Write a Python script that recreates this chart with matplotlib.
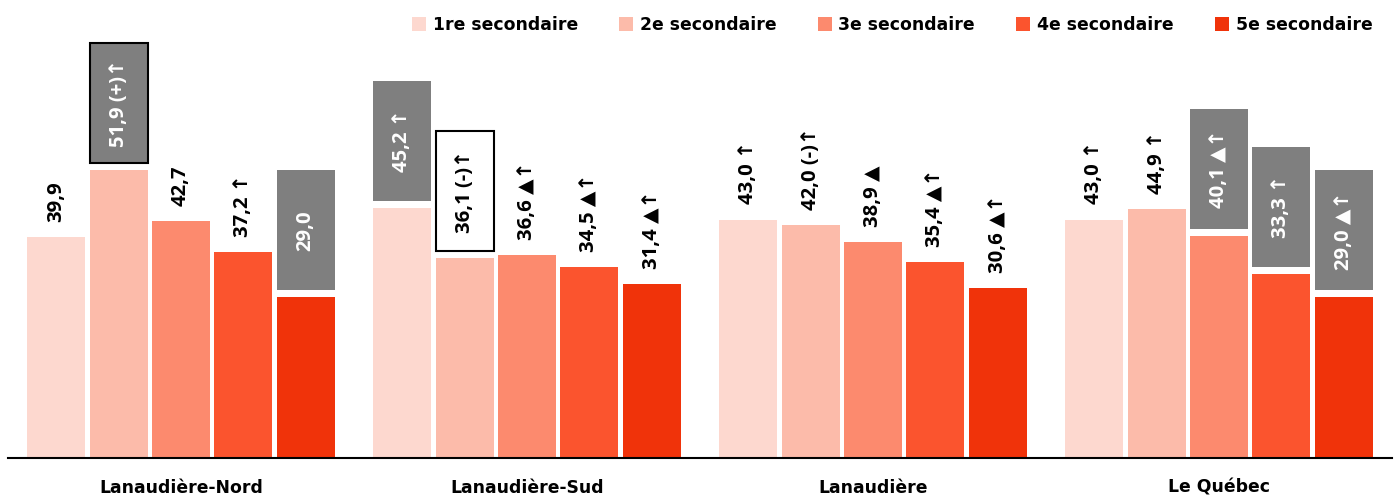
import matplotlib.pyplot as plt
from matplotlib.patches import Rectangle, Patch
import numpy as np

# data
regions = ["Lanaudière-Nord", "Lanaudière-Sud", "Lanaudière", "Le Québec"]
grades = ["1re secondaire", "2e secondaire", "3e secondaire", "4e secondaire", "5e secondaire"]
values = [
    [39.9, 51.9, 42.7, 37.2, 29.0],
    [45.2, 36.1, 36.6, 34.5, 31.4],
    [43.0, 42.0, 38.9, 35.4, 30.6],
    [43.0, 44.9, 40.1, 33.3, 29.0],
]
labels = [
    ["39,9", "51,9 (+)↑", "42,7", "37,2 ↑", "29,0"],
    ["45,2 ↑", "36,1 (-)↑", "36,6 ▲↑", "34,5 ▲↑", "31,4 ▲↑"],
    ["43,0 ↑", "42,0 (-)↑", "38,9 ▲", "35,4 ▲↑", "30,6 ▲↑"],
    ["43,0 ↑", "44,9 ↑", "40,1 ▲↑", "33,3 ↑", "29,0 ▲↑"],
]
# label box style: '' none, 'g' grey, 'ge' grey + black edge, 'we' white + black edge
boxes = [
    ["", "ge", "", "", "g"],
    ["g", "we", "", "", ""],
    ["", "", "", "", ""],
    ["", "", "g", "g", "g"],
]
colors = ["#FDD8CF", "#FCBBAA", "#FC8A6E", "#FB542E", "#F0330A"]
grey = "#7F7F7F"

plt.rcParams['font.family'] = ['DejaVu Sans']
plt.rcParams['font.weight'] = 'bold'
fs = 12.4
lab_fam = ['Open Sans', 'DejaVu Sans']
lab_fs = 14.6

fig = plt.figure(figsize=(13.94, 4.97), dpi=100)
ax = fig.add_axes([8 / 1394, 39 / 497, 1384 / 1394, 458 / 497])

x = np.arange(len(regions))
w = 0.1675
step = 0.18
px = 82.67 / 458  # data units per pixel (vertical)

for j in range(len(grades)):
    xs = x + (j - 2) * step
    vals = [values[i][j] for i in range(len(regions))]
    ax.bar(xs, vals, width=w, color=colors[j], label=grades[j])
    for i in range(len(regions)):
        v = vals[i]
        b = boxes[i][j]
        if b == "":
            ax.annotate(labels[i][j], (xs[i], v), xytext=(0, 11), textcoords='offset points',
                        rotation=90, ha='center', va='bottom', fontsize=lab_fs,
                        family=lab_fam, fontweight='bold', color='black')
        else:
            y0 = v + 7 * px
            h = 120 * px
            face = 'white' if b == 'we' else grey
            edge = 'black' if b in ('ge', 'we') else 'none'
            ax.add_patch(Rectangle((xs[i] - w / 2, y0), w, h, facecolor=face,
                                   edgecolor=edge, linewidth=1.5, zorder=3))
            ax.text(xs[i], y0 + h / 2, labels[i][j], rotation=90, ha='center', va='center',
                    fontsize=lab_fs, family=lab_fam, fontweight='bold',
                    color='black' if b == 'we' else 'white', zorder=4)

ax.set_xlim(-0.5, 3.5)
ax.set_ylim(0, 82.67)
ax.set_xticks(x)
ax.set_xticklabels(regions, fontsize=fs, fontweight='bold')
ax.tick_params(axis='x', length=0, pad=15)
ax.set_yticks([])
for s in ['top', 'left', 'right']:
    ax.spines[s].set_visible(False)
ax.spines['bottom'].set_linewidth(1.5)
ax.patch.set_alpha(0)

handles = [Patch(facecolor=c) for c in colors]
fig.legend(handles, grades, loc='center right', bbox_to_anchor=(1381 / 1394, 1 - 25 / 497),
           ncol=5, frameon=False, borderpad=0, handlelength=0.8,
           handleheight=0.8, handletextpad=0.4, columnspacing=2.4,
           prop={'weight': 'bold', 'size': fs})

fig.savefig("out.png", dpi=100)
